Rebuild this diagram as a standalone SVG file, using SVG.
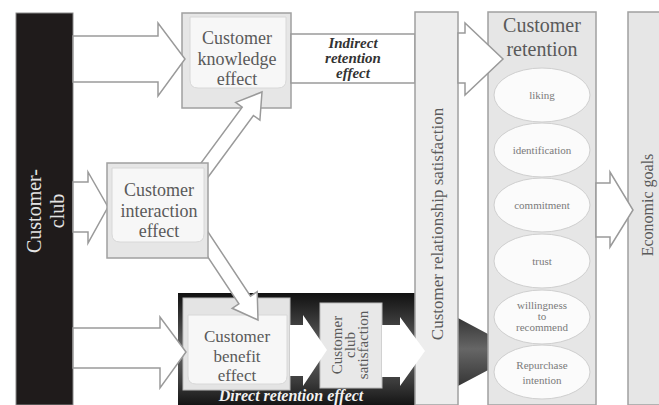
<svg xmlns="http://www.w3.org/2000/svg" width="659" height="405" viewBox="0 0 659 405">
<defs>
<linearGradient id="dark" x1="0" y1="0" x2="0" y2="1">
<stop offset="0" stop-color="#111"/>
<stop offset="0.25" stop-color="#3a3a3a"/>
<stop offset="0.5" stop-color="#666"/>
<stop offset="0.8" stop-color="#3a3a3a"/>
<stop offset="1" stop-color="#151515"/>
</linearGradient>
<style>
text{font-family:'Liberation Serif','DejaVu Serif',serif}
.box{fill:#e6e6e6;stroke:#a0a0a0;stroke-width:1.5}
.inner{fill:#f7f7f7;stroke:#d8d8d8;stroke-width:1}
.arr{fill:#fff;stroke:#9a9a9a;stroke-width:1.5;stroke-linejoin:miter}
.lbl{fill:#5a5a5a;text-anchor:middle}
.big{font-size:18px}
.ell{fill:#fbfbfb;stroke:#cfcfcf;stroke-width:1}
.small{font-size:11px;fill:#7a7a7a}
.bi{font-weight:bold;font-style:italic;text-anchor:middle}
</style>
</defs>
<rect width="659" height="405" fill="#fff"/>

<g id="customer-club">
<rect x="16" y="13" width="57" height="392" fill="#1f1b1b" stroke="#8a8a8a" stroke-width="1"/>
<g transform="translate(45,211) rotate(-90)">
<text class="lbl" x="0" y="-4" font-family="Liberation Serif, serif" style="font-size:20px;fill:#e4e4e4">Customer-</text>
<text class="lbl" x="0" y="19" font-family="Liberation Serif, serif" style="font-size:20px;fill:#e4e4e4">club</text>
</g>
</g>

<g id="direct-retention-effect">
<polygon points="178,293 458,293 458,318 522,352 458,386 458,405 178,405" fill="url(#dark)"/>
<text class="bi" x="291" y="401" style="font-size:16px;fill:#f2f2f2">Direct retention effect</text>
</g>

<g id="customer-knowledge-effect">
<rect class="box" x="182" y="13" width="109" height="95"/>
<path class="inner" d="M190,17 H286 V80 Q286,88 278,88 H198 Q190,88 190,80 Z"/>
<text class="lbl big" x="237" y="44">Customer</text>
<text class="lbl big" x="237" y="65">knowledge</text>
<text class="lbl big" x="237" y="85">effect</text>
</g>

<g id="indirect-retention-effect">
<rect x="291" y="34" width="124" height="49" fill="#fff" stroke="#9a9a9a" stroke-width="1.5"/>
<text class="bi" x="353" y="48" style="font-size:15px;fill:#333">Indirect</text>
<text class="bi" x="353" y="63" style="font-size:15px;fill:#333">retention</text>
<text class="bi" x="353" y="78" style="font-size:15px;fill:#333">effect</text>
</g>

<g id="customer-benefit-effect">
<rect x="183" y="298" width="107" height="92" fill="#e4e4e4" stroke="#bbb" stroke-width="1"/>
<path class="inner" d="M188,315 H287 V376 Q287,384 279,384 H196 Q188,384 188,376 Z"/>
<text class="lbl" x="237" y="342" style="font-size:17px">Customer</text>
<text class="lbl" x="237" y="361.5" style="font-size:17px">benefit</text>
<text class="lbl" x="237" y="381" style="font-size:17px">effect</text>
</g>

<g id="customer-club-satisfaction">
<rect x="320" y="303" width="62" height="85" fill="#e8e8e8" stroke="#bbb" stroke-width="1"/>
<g transform="translate(351,345) rotate(-90)">
<text class="lbl" x="0" y="-9" style="font-size:15px">Customer</text>
<text class="lbl" x="0" y="4" style="font-size:15px">club</text>
<text class="lbl" x="0" y="17" style="font-size:15px">satisfaction</text>
</g>
</g>

<g id="customer-relationship-satisfaction">
<rect class="box" x="415" y="12" width="43" height="393" style="fill:#ededed"/>
<g transform="translate(437,224) rotate(-90)">
<text class="lbl" x="0" y="6" style="font-size:17px">Customer relationship satisfaction</text>
</g>
</g>

<g id="customer-retention">
<rect class="box" x="488" y="12" width="108" height="393"/>
<text class="lbl" x="542" y="32" style="font-size:20px">Customer</text>
<text class="lbl" x="542" y="56" style="font-size:20px">retention</text>
<ellipse class="ell" cx="542" cy="95" rx="48" ry="27"/>
<text class="lbl small" x="542" y="99">liking</text>
<ellipse class="ell" cx="542" cy="150" rx="48" ry="27"/>
<text class="lbl small" x="542" y="154">identification</text>
<ellipse class="ell" cx="542" cy="205" rx="48" ry="27"/>
<text class="lbl small" x="542" y="209">commitment</text>
<ellipse class="ell" cx="542" cy="261" rx="48" ry="27"/>
<text class="lbl small" x="542" y="265">trust</text>
<ellipse class="ell" cx="542" cy="317" rx="48" ry="27"/>
<text class="lbl small" x="542" y="309">willingness</text>
<text class="lbl small" x="542" y="320">to</text>
<text class="lbl small" x="542" y="331">recommend</text>
<ellipse class="ell" cx="542" cy="372" rx="48" ry="27"/>
<text class="lbl small" x="542" y="369">Repurchase</text>
<text class="lbl small" x="542" y="384">intention</text>
</g>

<g id="economic-goals">
<rect class="box" x="628" y="12" width="40" height="393"/>
<g transform="translate(647,205) rotate(-90)">
<text class="lbl" x="0" y="6" style="font-size:16px">Economic goals</text>
</g>
</g>

<g id="connectors">
<polygon class="arr" points="73,36 158,36 158,23 185,59 158,96 158,82 73,82"/>
<polygon class="arr" points="73,328 160,328 160,317 186,352 160,388 160,368 73,368"/>
<polygon class="arr" points="73,182 88,182 88,172 108,207 88,243 88,232 73,232"/>
<polygon class="arr" points="200.6,187.2 253.4,115.5 259.9,120.2 262,92 235.7,102.4 242.2,107.1 189.4,178.8"/>
<polygon class="arr" points="189.2,228.9 238.9,303.9 232.2,308.3 258,320 257.2,291.7 250.5,296.1 200.8,221.1"/>
<polygon points="290,325 303,325 303,315 327,350 303,386 303,376 290,376" fill="#fff"/>
<polygon points="382,325 400,325 400,317 425,351 400,386 400,377 382,377" fill="#fff"/>
<polygon class="arr" points="458,33 465,33 465,23 503,59 465,95 465,83 458,83"/>
<polygon class="arr" points="596,183 610,183 610,172 633,210 610,247 610,237 596,237"/>
</g>

<g id="interaction-box">
<rect class="box" x="107" y="163" width="101" height="95"/>
<path class="inner" d="M112,168 H204 V234 Q204,242 196,242 H120 Q112,242 112,234 Z"/>
<text class="lbl big" x="159" y="196">Customer</text>
<text class="lbl big" x="159" y="217">interaction</text>
<text class="lbl big" x="159" y="237">effect</text>
</g>
</svg>
